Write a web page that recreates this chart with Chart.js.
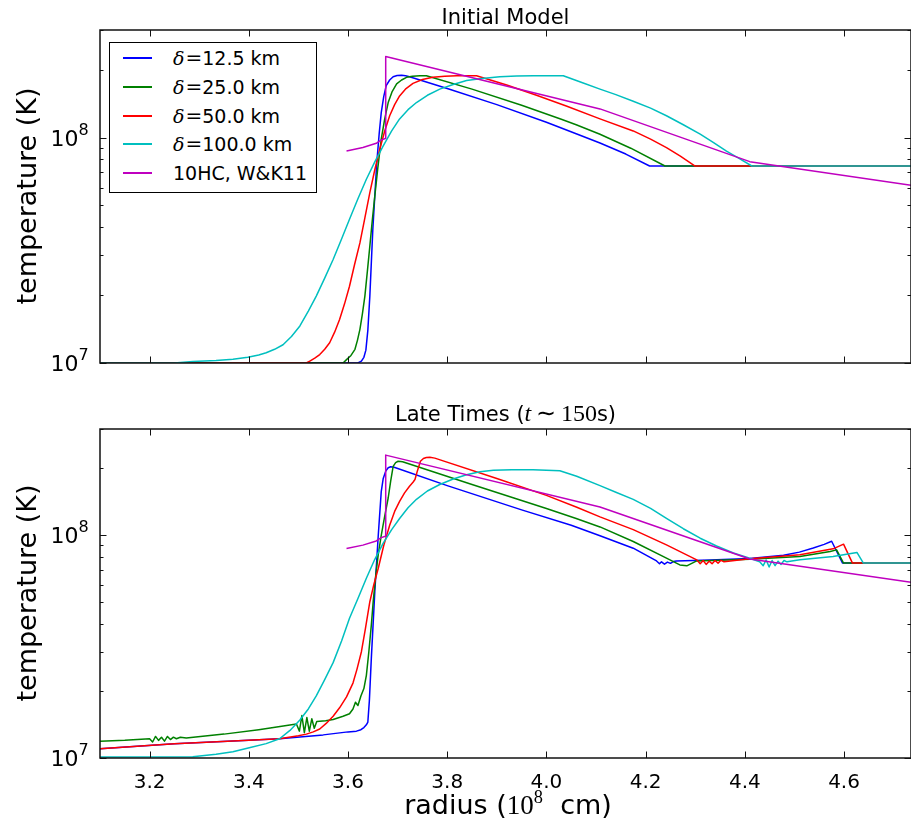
<!DOCTYPE html>
<html lang="en">

<head>
    <meta charset="UTF-8">
    <title>Temperature profiles</title>
    <script src="https://cdn.jsdelivr.net/npm/chart.js"></script>
    <style>
        body {
            margin: 0;
            background: #fff;
            overflow: hidden;
        }

        #fig {
            position: relative;
            width: 911px;
            height: 832px;
            font-family: 'DejaVu Sans', sans-serif;
            color: #000;
        }

        canvas {
            position: absolute;
            left: 0;
        }

        #cTop { top: 0; }
        #cBot { top: 400px; }

        .txt {
            position: absolute;
            white-space: nowrap;
            line-height: 1;
            transform: translate(-50%, -50%);
        }

        .title { font-size: 21px; }
        .title .m { font-size: 24px; }
        .axlabel { font-size: 27px; }
        .ylab { transform: translate(-50%, -50%) rotate(-90deg); }
        .m { font-family: 'Liberation Serif', serif; }
        .m sup { font-size: 0.68em; vertical-align: 0.6em; line-height: 0; }

        #legend {
            position: absolute;
            left: 109px;
            top: 42px;
            width: 206px;
            height: 149px;
            border: 1px solid #000;
            background: #fff;
            font-size: 19px;
        }

        .row { position: absolute; left: 0; height: 0; }
        .swatch { position: absolute; left: 13px; width: 29px; top: -1px; height: 2px; }
        .lab { position: absolute; left: 63px; top: 0; line-height: 1; transform: translateY(-50%); white-space: nowrap; }
        .lab .eq { font-family: 'DejaVu Serif', serif; font-size: 20px; margin-left: 1px; }
        .lab i { font-family: 'DejaVu Serif', serif; }
    </style>
</head>

<body>
    <div id="fig">
        <canvas id="cTop" width="911" height="380"></canvas>
        <canvas id="cBot" width="911" height="432"></canvas>
        <div class="txt title" style="left:505.5px; top:17px;">Initial Model</div>
        <div class="txt title" style="left:505.5px; top:413px;">Late Times (<span class="m"><i>t</i>&thinsp;∼&thinsp;150</span>s)</div>
        <div class="txt axlabel ylab" style="left:26px; top:196px;">temperature (K)</div>
        <div class="txt axlabel ylab" style="left:26px; top:593px;">temperature (K)</div>
        <div class="txt axlabel" style="left:508px; top:805px;">radius (<span class="m">10<sup>8</sup></span>&nbsp; cm)</div>
        <div id="legend"></div>
    </div>
    <script>
        // axis limits and ticks
        const X_MIN = 3.1, X_MAX = 4.735;
        const Y_MIN = 1e7, Y_MAX = 3e8;
        const xTicks = [3.2, 3.4, 3.6, 3.8, 4.0, 4.2, 4.4, 4.6];
        const yMajorTicks = [1e7, 1e8];
        const yTickExps = ['7', '8'];
        const yMinorTicks = [2e7, 3e7, 4e7, 5e7, 6e7, 7e7, 8e7, 9e7, 2e8, 3e8];

        const legendLabels = ['δ=12.5 km', 'δ=25.0 km', 'δ=50.0 km', 'δ=100.0 km', '10HC, W&K11'];
        const seriesColors = ['#0000ff', '#008000', '#ff0000', '#00bfbf', '#bf00bf'];

        // initial model (radius in 1e8 cm, temperature in K)
        const initR125 = [3.10, 3.620, 3.627, 3.632, 3.636, 3.640, 3.644, 3.650, 3.658, 3.663, 3.667, 3.672, 3.677, 3.684, 3.691, 3.699, 3.708, 3.716, 3.724, 3.80, 3.90, 4.00, 4.06, 4.108, 4.16, 4.208, 4.735];
        const initT125 = [1.0e7, 1.0e7, 1.02e7, 1.06e7, 1.14e7, 1.4e7, 1.98e7, 3.91e7, 7.74e7, 1.05e8, 1.29e8, 1.52e8, 1.70e8, 1.80e8, 1.86e8, 1.885e8, 1.89e8, 1.88e8, 1.86e8, 1.65e8, 1.40e8, 1.17e8, 1.04e8, 9.46e7, 8.45e7, 7.48e7, 7.48e7];

        const initR250 = [3.10, 3.590, 3.597, 3.606, 3.614, 3.619, 3.624, 3.629, 3.634, 3.639, 3.644, 3.649, 3.654, 3.660, 3.667, 3.674, 3.681, 3.689, 3.698, 3.708, 3.718, 3.730, 3.745, 3.758, 3.85, 3.95, 4.03, 4.06, 4.108, 4.17, 4.239, 4.735];
        const initT250 = [1.0e7, 1.0e7, 1.035e7, 1.08e7, 1.15e7, 1.26e7, 1.41e7, 1.65e7, 1.98e7, 2.55e7, 3.30e7, 4.3e7, 5.5e7, 7.3e7, 9.83e7, 1.21e8, 1.43e8, 1.60e8, 1.73e8, 1.80e8, 1.85e8, 1.87e8, 1.88e8, 1.88e8, 1.64e8, 1.39e8, 1.205e8, 1.14e8, 1.035e8, 8.97e7, 7.48e7, 7.48e7];

        const initR500 = [3.10, 3.516, 3.523, 3.533, 3.543, 3.553, 3.563, 3.573, 3.583, 3.593, 3.603, 3.613, 3.624, 3.634, 3.644, 3.654, 3.664, 3.674, 3.684, 3.694, 3.704, 3.717, 3.731, 3.750, 3.771, 3.795, 3.819, 3.859, 3.92, 3.98, 4.04, 4.108, 4.175, 4.21, 4.242, 4.27, 4.299, 4.735];
        const initT500 = [1.0e7, 1.0e7, 1.02e7, 1.05e7, 1.09e7, 1.15e7, 1.23e7, 1.37e7, 1.56e7, 1.83e7, 2.19e7, 2.72e7, 3.41e7, 4.4e7, 5.70e7, 7.2e7, 8.87e7, 1.07e8, 1.25e8, 1.40e8, 1.53e8, 1.65e8, 1.74e8, 1.81e8, 1.85e8, 1.87e8, 1.88e8, 1.88e8, 1.71e8, 1.54e8, 1.38e8, 1.21e8, 1.07e8, 9.84e7, 9.03e7, 8.28e7, 7.48e7, 7.48e7];

        const initR1000 = [3.10, 3.25, 3.287, 3.334, 3.368, 3.398, 3.420, 3.435, 3.452, 3.469, 3.486, 3.503, 3.520, 3.536, 3.553, 3.570, 3.587, 3.603, 3.620, 3.637, 3.654, 3.671, 3.688, 3.704, 3.721, 3.738, 3.760, 3.785, 3.812, 3.839, 3.870, 3.906, 3.940, 3.973, 4.034, 4.070, 4.108, 4.140, 4.175, 4.210, 4.242, 4.276, 4.310, 4.337, 4.363, 4.390, 4.414, 4.735];
        const initT1000 = [1.0e7, 1.0e7, 1.016e7, 1.025e7, 1.04e7, 1.06e7, 1.085e7, 1.11e7, 1.15e7, 1.205e7, 1.31e7, 1.46e7, 1.70e7, 1.98e7, 2.38e7, 2.88e7, 3.55e7, 4.34e7, 5.35e7, 6.53e7, 7.8e7, 9.18e7, 1.07e8, 1.21e8, 1.33e8, 1.43e8, 1.54e8, 1.64e8, 1.72e8, 1.79e8, 1.83e8, 1.86e8, 1.875e8, 1.88e8, 1.88e8, 1.76e8, 1.64e8, 1.55e8, 1.45e8, 1.35e8, 1.25e8, 1.14e8, 1.035e8, 9.5e7, 8.71e7, 8.05e7, 7.48e7, 7.48e7];

        // 10HC, W&K11 reference profile (same in both panels)
        const wkR = [3.597, 3.630, 3.657, 3.667, 3.675, 3.676, 4.108, 4.410, 4.735];
        const wkT = [8.72e7, 9.03e7, 9.43e7, 9.76e7, 9.9e7, 2.29e8, 1.34e8, 7.82e7, 6.15e7];

        // late times
        const lateR125 = [3.10, 3.25, 3.40, 3.462, 3.55, 3.600, 3.617, 3.626, 3.632, 3.637, 3.640, 3.643, 3.647, 3.654, 3.661, 3.667, 3.671, 3.676, 3.681, 3.686, 3.693, 3.80, 3.95, 4.05, 4.108, 4.175, 4.222, 4.228, 4.232, 4.238, 4.244, 4.250, 4.256, 4.262, 4.33, 4.41, 4.478, 4.510, 4.538, 4.560, 4.575, 4.597, 4.735];
        const lateT125 = [1.10e7, 1.16e7, 1.20e7, 1.22e7, 1.27e7, 1.31e7, 1.32e7, 1.34e7, 1.37e7, 1.41e7, 1.45e7, 1.8e7, 2.80e7, 5.57e7, 1.00e8, 1.57e8, 1.80e8, 1.94e8, 2.01e8, 2.03e8, 2.02e8, 1.67e8, 1.30e8, 1.11e8, 9.95e7, 8.75e7, 7.67e7, 7.45e7, 7.6e7, 7.42e7, 7.58e7, 7.48e7, 7.62e7, 7.66e7, 7.75e7, 7.87e7, 8.13e7, 8.4e7, 8.77e7, 9.1e7, 9.40e7, 7.5e7, 7.5e7];

        const lateR250 = [3.10, 3.15, 3.20, 3.206, 3.212, 3.218, 3.224, 3.230, 3.236, 3.242, 3.248, 3.254, 3.262, 3.274, 3.35, 3.42, 3.496, 3.502, 3.507, 3.512, 3.517, 3.522, 3.527, 3.532, 3.537, 3.555, 3.570, 3.590, 3.603, 3.610, 3.615, 3.620, 3.626, 3.632, 3.637, 3.642, 3.647, 3.651, 3.656, 3.661, 3.667, 3.674, 3.681, 3.686, 3.691, 3.696, 3.701, 3.710, 3.85, 4.00, 4.06, 4.108, 4.175, 4.242, 4.269, 4.283, 4.303, 4.41, 4.511, 4.572, 4.585, 4.599, 4.735];
        const lateT250 = [1.19e7, 1.20e7, 1.22e7, 1.18e7, 1.25e7, 1.20e7, 1.24e7, 1.19e7, 1.25e7, 1.21e7, 1.24e7, 1.22e7, 1.24e7, 1.23e7, 1.28e7, 1.34e7, 1.42e7, 1.32e7, 1.55e7, 1.30e7, 1.52e7, 1.32e7, 1.50e7, 1.36e7, 1.46e7, 1.47e7, 1.49e7, 1.54e7, 1.58e7, 1.66e7, 1.78e7, 1.72e7, 1.90e7, 2.05e7, 2.35e7, 3.0e7, 3.95e7, 5.1e7, 6.64e7, 8.2e7, 1.00e8, 1.22e8, 1.47e8, 1.75e8, 2.04e8, 2.12e8, 2.15e8, 2.14e8, 1.69e8, 1.32e8, 1.19e8, 1.09e8, 9.38e7, 7.89e7, 7.36e7, 7.29e7, 7.67e7, 7.81e7, 8.03e7, 8.46e7, 8.6e7, 7.5e7, 7.5e7];

        const lateR500 = [3.10, 3.25, 3.40, 3.462, 3.50, 3.516, 3.530, 3.543, 3.556, 3.570, 3.583, 3.597, 3.610, 3.618, 3.627, 3.635, 3.644, 3.652, 3.661, 3.672, 3.684, 3.694, 3.704, 3.714, 3.724, 3.731, 3.735, 3.740, 3.746, 3.752, 3.758, 3.765, 3.775, 3.90, 4.00, 4.06, 4.108, 4.175, 4.242, 4.303, 4.310, 4.316, 4.322, 4.328, 4.334, 4.340, 4.346, 4.352, 4.358, 4.41, 4.511, 4.578, 4.599, 4.617, 4.735];
        const lateT500 = [1.10e7, 1.16e7, 1.20e7, 1.22e7, 1.26e7, 1.28e7, 1.31e7, 1.35e7, 1.43e7, 1.54e7, 1.68e7, 1.88e7, 2.17e7, 2.5e7, 3.0e7, 3.8e7, 5.03e7, 6.0e7, 7.11e7, 9.0e7, 1.11e8, 1.28e8, 1.42e8, 1.55e8, 1.66e8, 1.73e8, 1.78e8, 1.95e8, 2.15e8, 2.21e8, 2.235e8, 2.24e8, 2.22e8, 1.80e8, 1.51e8, 1.34e8, 1.21e8, 1.06e8, 9.06e7, 7.76e7, 7.45e7, 7.7e7, 7.4e7, 7.65e7, 7.45e7, 7.7e7, 7.5e7, 7.72e7, 7.6e7, 7.84e7, 8.17e7, 8.69e7, 9.12e7, 7.5e7, 7.5e7];

        const lateR1000 = [3.10, 3.287, 3.334, 3.368, 3.405, 3.435, 3.462, 3.483, 3.503, 3.520, 3.536, 3.553, 3.570, 3.587, 3.603, 3.620, 3.637, 3.654, 3.671, 3.688, 3.704, 3.721, 3.738, 3.760, 3.785, 3.812, 3.839, 3.866, 3.893, 3.93, 3.973, 4.027, 4.061, 4.108, 4.140, 4.175, 4.21, 4.242, 4.276, 4.310, 4.343, 4.377, 4.41, 4.43, 4.437, 4.443, 4.449, 4.455, 4.461, 4.467, 4.473, 4.479, 4.485, 4.511, 4.578, 4.626, 4.639, 4.735];
        const lateT1000 = [1.01e7, 1.013e7, 1.04e7, 1.067e7, 1.117e7, 1.16e7, 1.22e7, 1.33e7, 1.48e7, 1.66e7, 1.90e7, 2.25e7, 2.68e7, 3.35e7, 4.24e7, 5.2e7, 6.41e7, 7.8e7, 9.22e7, 1.06e8, 1.19e8, 1.33e8, 1.45e8, 1.58e8, 1.69e8, 1.79e8, 1.87e8, 1.93e8, 1.96e8, 1.97e8, 1.97e8, 1.95e8, 1.84e8, 1.67e8, 1.56e8, 1.45e8, 1.32e8, 1.19e8, 1.07e8, 9.7e7, 8.95e7, 8.32e7, 7.89e7, 7.6e7, 7.3e7, 7.75e7, 7.2e7, 7.7e7, 7.3e7, 7.65e7, 7.4e7, 7.7e7, 7.6e7, 7.76e7, 8.03e7, 8.37e7, 7.5e7, 7.5e7];

        function pts(r, t) {
            return r.map((v, i) => ({ x: v, y: t[i] }));
        }

        function makeSets(pairs) {
            return pairs.map((p, i) => ({
                label: legendLabels[i],
                data: pts(p[0], p[1]),
                borderColor: seriesColors[i],
                borderWidth: 1.5,
                borderJoinStyle: 'round',
                pointRadius: 0,
                fill: false,
                tension: 0,
                order: pairs.length - i  // later series drawn on top, like matplotlib
            }));
        }

        // frame with inward ticks on all sides, plus the 10^n labels
        const frameTicks = {
            id: 'frameTicks',
            afterDraw(chart) {
                const { ctx, chartArea: a } = chart;
                const x = chart.scales.x, y = chart.scales.y;
                const seg = (x1, y1, x2, y2) => { ctx.beginPath(); ctx.moveTo(x1, y1); ctx.lineTo(x2, y2); ctx.stroke(); };
                ctx.save();
                ctx.strokeStyle = '#111';
                ctx.lineWidth = 1;
                xTicks.forEach(v => {
                    const px = Math.round(x.getPixelForValue(v)) + 0.5;
                    seg(px, a.bottom, px, a.bottom - 6.5);
                    seg(px, a.top, px, a.top + 6.5);
                });
                yMajorTicks.forEach(v => {
                    const py = Math.round(y.getPixelForValue(v)) + 0.5;
                    seg(a.left, py, a.left + 6.5, py);
                    seg(a.right, py, a.right - 6.5, py);
                });
                yMinorTicks.forEach(v => {
                    const py = Math.round(y.getPixelForValue(v)) + 0.5;
                    seg(a.left, py, a.left + 3.5, py);
                    seg(a.right, py, a.right - 3.5, py);
                });
                ctx.lineWidth = 1.5;
                ctx.strokeRect(a.left, a.top, a.right - a.left, a.bottom - a.top);

                ctx.fillStyle = '#000';
                ctx.textBaseline = 'alphabetic';
                yMajorTicks.forEach((v, i) => {
                    const py = y.getPixelForValue(v);
                    ctx.font = '22px "DejaVu Sans"';
                    ctx.textAlign = 'right';
                    ctx.fillText('10', a.left - 21.5, py + 8);
                    ctx.font = '16px "DejaVu Sans"';
                    ctx.textAlign = 'left';
                    ctx.fillText(yTickExps[i], a.left - 21.5, py - 3);
                });
                ctx.restore();
            }
        };

        function makeChart(id, datasets, o) {
            return new Chart(document.getElementById(id), {
                type: 'line',
                data: { datasets: datasets },
                options: {
                    responsive: false,
                    animation: false,
                    devicePixelRatio: 1,
                    layout: { padding: { top: o.top, left: 0, right: 0, bottom: 0 } },
                    plugins: { legend: { display: false }, tooltip: { enabled: false } },
                    scales: {
                        x: {
                            type: 'linear',
                            min: X_MIN,
                            max: X_MAX,
                            grid: { display: false },
                            border: { display: false },
                            afterBuildTicks: ax => { ax.ticks = xTicks.map(v => ({ value: v })); },
                            afterFit: ax => { ax.height = o.xh; },
                            ticks: {
                                display: o.showX,
                                color: '#000',
                                font: { family: 'DejaVu Sans', size: 20 },
                                padding: 5,
                                maxRotation: 0,
                                autoSkip: false,
                                callback: v => v.toFixed(1)
                            }
                        },
                        y: {
                            type: 'logarithmic',
                            min: Y_MIN,
                            max: Y_MAX,
                            grid: { display: false },
                            border: { display: false },
                            ticks: { display: false },
                            afterFit: ax => { ax.width = 100; }
                        }
                    }
                },
                plugins: [frameTicks]
            });
        }

        makeChart('cTop', makeSets([
            [initR125, initT125], [initR250, initT250], [initR500, initT500], [initR1000, initT1000], [wkR, wkT]
        ]), { top: 30, xh: 17, showX: false });

        makeChart('cBot', makeSets([
            [lateR125, lateT125], [lateR250, lateT250], [lateR500, lateT500], [lateR1000, lateT1000], [wkR, wkT]
        ]), { top: 29, xh: 74, showX: true });

        // legend box (top panel)
        const legend = document.getElementById('legend');
        legendLabels.forEach((lab, i) => {
            const row = document.createElement('div');
            row.className = 'row';
            row.style.top = (15 + i * 28.8) + 'px';
            const sw = document.createElement('div');
            sw.className = 'swatch';
            sw.style.background = seriesColors[i];
            const txt = document.createElement('span');
            txt.className = 'lab';
            if (lab.startsWith('δ=')) {
                txt.innerHTML = '<i>δ</i><span class="eq">=</span>' + lab.slice(2);
            } else {
                txt.textContent = lab;
            }
            row.appendChild(sw);
            row.appendChild(txt);
            legend.appendChild(row);
        });
    </script>
</body>

</html>
